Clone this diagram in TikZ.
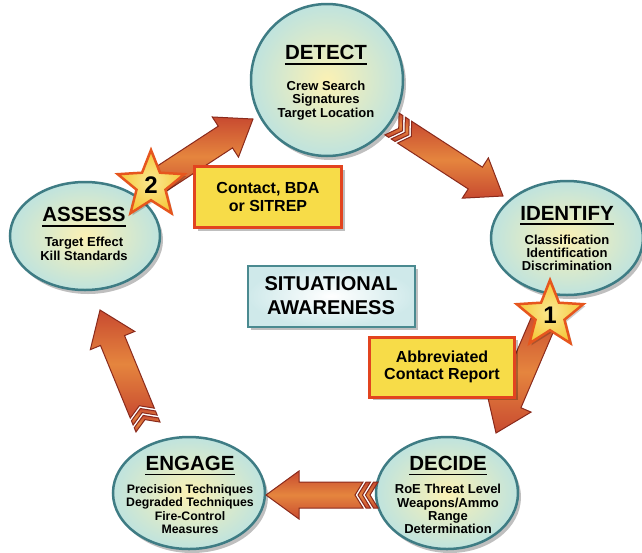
\documentclass[tikz,border=0pt]{standalone}
\usepackage{fontspec}
\setmainfont{Liberation Sans}
\usetikzlibrary{shapes.geometric,shadows,calc}

\definecolor{ringc}{HTML}{3E7C84}
\definecolor{phin}{HTML}{FBF1B4}
\definecolor{phout}{HTML}{BFE3DE}
\definecolor{arrA}{HTML}{E5853E}
\definecolor{arrB}{HTML}{C84A30}
\definecolor{arrD}{HTML}{8A2A1C}
\definecolor{boxY}{HTML}{F7DC48}
\definecolor{boxR}{HTML}{E2441F}
\definecolor{saBorder}{HTML}{4A8A90}
\definecolor{saFill}{HTML}{CFE9EA}
\definecolor{starIn}{HTML}{FBE890}
\definecolor{starOut}{HTML}{F5C83A}
\definecolor{starR}{HTML}{E6561E}

\tikzset{
  phase/.style={ellipse, draw=ringc, line width=2.5pt, inner color=phin, outer color=phout, inner sep=0pt,
    drop shadow={opacity=0.25, shadow xshift=3pt, shadow yshift=-4pt, fill=black}},
  ptitle/.style={font=\bfseries\fontsize{20.5}{22}\selectfont, inner sep=0pt},
  psub/.style={font=\bfseries\fontsize{13}{13.3}\selectfont, align=center, inner sep=0pt},
  ulinec/.style={line width=1.6pt, black},
  notebox/.style={draw=boxR, line width=3pt, fill=boxY, align=center, inner sep=0pt,
    font=\bfseries\fontsize{16}{17.5}\selectfont,
    drop shadow={opacity=0.25, shadow xshift=3pt, shadow yshift=-3pt, fill=black}},
  sabox/.style={draw=saBorder, line width=2pt, inner color=white, outer color=saFill, align=center, inner sep=0pt,
    font=\bfseries\fontsize{20}{24}\selectfont,
    drop shadow={opacity=0.25, shadow xshift=3pt, shadow yshift=-3pt, fill=black}},
  badge/.style={star, star points=5, star point ratio=2.3, minimum size=70pt, inner sep=0pt,
    draw=starR, line width=2.5pt, inner color=starIn, outer color=starOut,
    font=\bfseries\fontsize{24}{24}\selectfont,
    drop shadow={opacity=0.2, shadow xshift=2pt, shadow yshift=-2pt, fill=black}},
  arrowbody/.style={draw=arrD, line width=1pt, top color=arrB, bottom color=arrB, middle color=arrA, line join=miter},
}

% block arrow from #1 to #2, #3 = 1 for chevron tail, 0 for plain tail
\newcommand\blockarrow[3]{%
  \path let \p1=(#1), \p2=(#2), \n1={atan2(\y2-\y1,\x2-\x1)}, \n2={veclen(\x2-\x1,\y2-\y1)} in
    \pgfextra{\xdef\baang{\n1}\xdef\balenraw{\n2}\xdef\bax{\x1}\xdef\bay{\y1}};
  \pgfmathsetmacro\balen{\balenraw}%
  \pgfmathsetmacro\bahb{\balen-33}%
  \ifnum#3>0 \def\bab{15}\else\def\bab{0}\fi
  \pgfmathsetmacro\babn{\bab+8}%
  \begin{scope}[shift={(\bax,\bay)}, rotate=\baang]
    \ifnum#3>0
      \path[arrowbody] (0pt,13pt) -- (4.5pt,13pt) -- (12.5pt,0pt) -- (4.5pt,-13pt) -- (0pt,-13pt) -- (8pt,0pt) -- cycle;
      \path[arrowbody] (7.5pt,13pt) -- (12pt,13pt) -- (20pt,0pt) -- (12pt,-13pt) -- (7.5pt,-13pt) -- (15.5pt,0pt) -- cycle;
    \fi
    \path[arrowbody] (\bab pt,13pt) -- (\bahb pt,13pt) -- (\bahb pt,24pt) -- (\balen pt,0pt)
      -- (\bahb pt,-24pt) -- (\bahb pt,-13pt) -- (\bab pt,-13pt) -- (\babn pt,0pt) -- cycle;
  \end{scope}}

\begin{document}
\begin{tikzpicture}[x=1pt, y=-1pt]
\fill[white] (0,0) rectangle (642,552);
\useasboundingbox (0,0) rectangle (642,552);

% phases
\node[phase, minimum width=152pt, minimum height=152pt] (detect) at (327,80) {};
\node[phase, minimum width=152pt, minimum height=114pt] (identify) at (567,238) {};
\node[phase, minimum width=142pt, minimum height=112pt] (decide) at (447,493) {};
\node[phase, minimum width=152pt, minimum height=112pt] (engage) at (189,493) {};
\node[phase, minimum width=150pt, minimum height=108pt] (assess) at (85,236) {};

% titles and contents
\node[ptitle] (detectT) at (326,52.5) {DETECT};
\draw[ulinec] ([yshift=-4pt]detectT.south west) -- ([yshift=-4pt]detectT.south east);
\node[psub] (detectS) at (326,100.5) {Crew Search\\Signatures\\Target Location};

\node[ptitle] (identifyT) at (567,213) {IDENTIFY};
\draw[ulinec] ([yshift=-4pt]identifyT.south west) -- ([yshift=-4pt]identifyT.south east);
\node[psub] (identifyS) at (567,253) {Classification\\Identification\\Discrimination};

\node[ptitle] (decideT) at (448,463) {DECIDE};
\draw[ulinec] ([yshift=-4pt]decideT.south west) -- ([yshift=-4pt]decideT.south east);
\node[psub] (decideS) at (448,509) {RoE Threat Level\\Weapons/Ammo\\Range\\Determination};

\node[ptitle] (engageT) at (190,463) {ENGAGE};
\draw[ulinec] ([yshift=-4pt]engageT.south west) -- ([yshift=-4pt]engageT.south east);
\node[psub, font=\bfseries\fontsize{12.3}{13.3}\selectfont] (engageS) at (190,509) {Precision Techniques\\Degraded Techniques\\Fire-Control\\Measures};

\node[ptitle] (assessT) at (84,214.5) {ASSESS};
\draw[ulinec] ([yshift=-4pt]assessT.south west) -- ([yshift=-4pt]assessT.south east);
\node[psub, font=\bfseries\fontsize{13}{14}\selectfont] (assessS) at (84,249) {Target Effect\\Kill Standards};

% arrow end points
\coordinate (a1s) at (392,124);
\coordinate (a1e) at (503,196);
\coordinate (a2s) at (546,316);
\coordinate (a2e) at (496,433);
\coordinate (a3s) at (378,495);
\coordinate (a3e) at (266,495);
\coordinate (a4s) at (148,427);
\coordinate (a4e) at (100,310);
\coordinate (a5s) at (152,185);
\coordinate (a5e) at (253,119);

\blockarrow{a1s}{a1e}{1}
\blockarrow{a2s}{a2e}{0}
\blockarrow{a3s}{a3e}{1}
\blockarrow{a4s}{a4e}{1}
\blockarrow{a5s}{a5e}{0}

% centre box
\node[sabox, minimum width=167pt, minimum height=61pt] (sa) at (331,296) {SITUATIONAL\\AWARENESS};

% report boxes
\node[notebox, minimum width=147pt, minimum height=61pt] (report2) at (268,197) {Contact, BDA\\or SITREP};
\node[notebox, minimum width=145pt, minimum height=60pt] (report1) at (442,367) {Abbreviated\\Contact Report};

% stars
\node[badge] (star2) at (151,185) {2};
\node[badge] (star1) at (550,315) {1};
\end{tikzpicture}
\end{document}
